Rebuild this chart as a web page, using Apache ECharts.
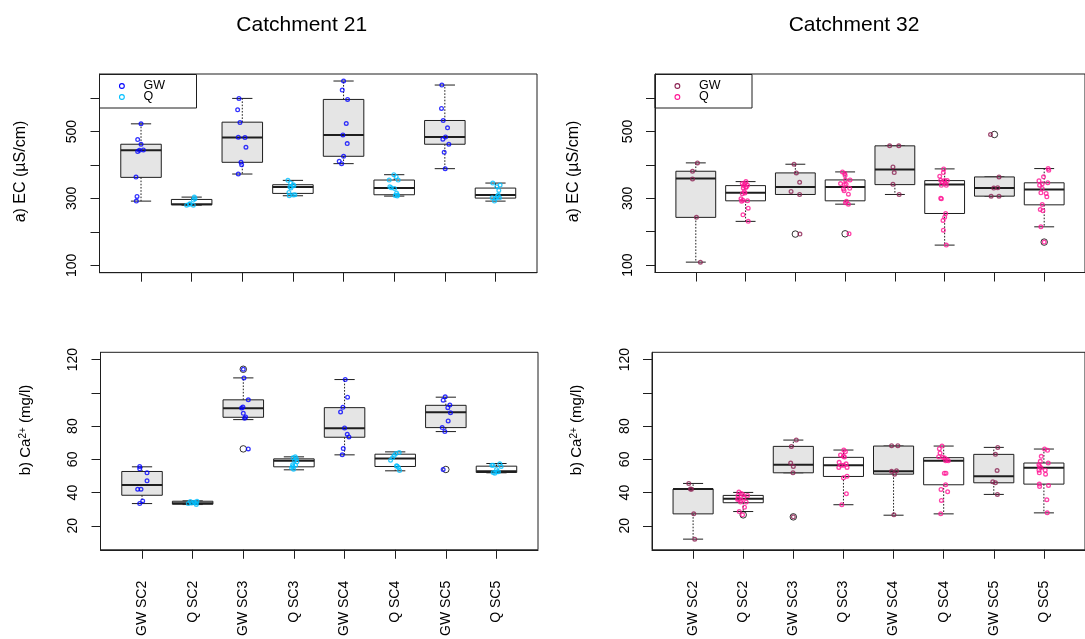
<!DOCTYPE html>
<html>
<head>
<meta charset="utf-8">
<title>EC and Ca2+ by sub-catchment</title>
<script src="https://cdn.jsdelivr.net/npm/echarts@6/dist/echarts.min.js"></script>
<style>
  html, body { margin: 0; padding: 0; background: #ffffff; }
  #chart { width: 1085px; height: 639px; }
</style>
</head>
<body>
<div id="chart"></div>
<script>
// ---- sample groups (groundwater / stream flow per sub-catchment) ----
const categories = ['GW SC2', 'Q SC2', 'GW SC3', 'Q SC3', 'GW SC4', 'Q SC4', 'GW SC5', 'Q SC5'];

// axis ticks and labels
const ecTicks = [100, 200, 300, 400, 500, 600];
const ecLabels = [100, 300, 500];
const caTicks = [20, 40, 60, 80, 100, 120];
const caLabels = [20, 40, 60, 80, 120];
const ecRange = [78, 672];
const caRange = [5.6, 124.4];
const groupRange = [0.18, 8.82];

// box statistics per group: [lower whisker, Q1, median, Q3, upper whisker]
const ec21Stats = [
  [292, 363, 444, 462, 523],
  [280, 281, 283, 297, 304],
  [373, 408, 482, 528, 599],
  [308, 315, 334, 341, 354],
  [404, 426, 490, 596, 651],
  [307, 311, 331, 355, 371],
  [389, 462, 484, 533, 639],
  [292, 301, 310, 331, 346]
];
const ec21Outliers = [];
// individual samples: [group, horizontal jitter, value]
const ec21Points = [
  [1, 0.000, 523], [1, -0.066, 476], [1, 0.000, 462], [1, -0.066, 440], [1, -0.033, 444],
  [1, 0.046, 445], [1, -0.099, 364], [1, -0.079, 306], [1, -0.092, 292],
  [2, -0.099, 280], [2, -0.033, 284], [2, 0.033, 280], [2, 0.053, 304], [2, 0.066, 299],
  [2, 0.033, 295], [2, -0.046, 283],
  [3, -0.066, 599], [3, -0.092, 565], [3, -0.046, 527], [3, -0.079, 483], [3, 0.053, 482],
  [3, 0.072, 453], [3, -0.026, 408], [3, -0.013, 401], [3, -0.079, 373],
  [4, -0.099, 354], [4, -0.046, 346], [4, 0.007, 341], [4, -0.059, 334], [4, 0.020, 338],
  [4, -0.079, 318], [4, 0.039, 311], [4, 0.007, 310], [4, -0.039, 331], [4, -0.072, 308],
  [5, 0.000, 651], [5, -0.026, 624], [5, 0.079, 596], [5, 0.053, 524], [5, -0.013, 490],
  [5, 0.072, 464], [5, 0.000, 426], [5, -0.086, 411], [5, -0.039, 404],
  [6, -0.007, 371], [6, 0.039, 365], [6, 0.079, 355], [6, -0.099, 355], [6, -0.086, 335],
  [6, 0.007, 330], [6, 0.046, 316], [6, 0.066, 310], [6, 0.020, 309], [6, 0.059, 307],
  [6, -0.059, 332],
  [7, -0.059, 639], [7, -0.066, 569], [7, -0.033, 533], [7, 0.053, 511], [7, 0.013, 484],
  [7, -0.039, 477], [7, 0.079, 462], [7, -0.013, 438], [7, 0.007, 389],
  [8, -0.053, 346], [8, 0.092, 340], [8, 0.026, 335], [8, 0.066, 324], [8, 0.053, 310],
  [8, -0.066, 302], [8, 0.000, 300], [8, 0.079, 302], [8, -0.020, 292], [8, 0.033, 306]
];

const ec32Stats = [
  [109, 243, 359, 381, 406],
  [231, 292.5, 316.5, 338, 350],
  [311.5, 311.5, 334, 376, 402],
  [282.5, 292.5, 334, 355, 379],
  [311.5, 341, 386, 457, 457],
  [160, 254.6, 341.4, 353, 388],
  [306.5, 306.5, 330.5, 364, 364],
  [214.7, 280.5, 326.4, 346.4, 389]
];
const ec32Outliers = [[3, 193], [4, 193.8], [7, 491], [8, 169]];
const ec32Points = [
  [1, 0.033, 406], [1, -0.066, 381], [1, -0.066, 358], [1, 0.013, 243], [1, 0.092, 109],
  [2, 0.007, 350], [2, -0.066, 344], [2, -0.013, 344], [2, 0.039, 339], [2, -0.039, 338],
  [2, 0.007, 333], [2, -0.046, 331], [2, 0.013, 334], [2, -0.026, 320], [2, -0.066, 314],
  [2, -0.013, 316], [2, -0.092, 298.5], [2, -0.053, 294.5], [2, 0.039, 292.5], [2, -0.079, 291.5],
  [2, 0.053, 270.5], [2, -0.053, 250.6], [2, 0.053, 231],
  [3, -0.026, 402], [3, 0.020, 376], [3, 0.086, 348], [3, -0.086, 320.5], [3, 0.086, 311.5],
  [3, 0.092, 193],
  [4, -0.053, 379], [4, -0.007, 374], [4, 0.000, 368], [4, 0.099, 355], [4, 0.007, 355],
  [4, -0.092, 344], [4, -0.013, 341], [4, 0.020, 342], [4, 0.092, 330], [4, -0.033, 328],
  [4, -0.020, 323], [4, 0.066, 312.5], [4, 0.026, 291.5], [4, 0.007, 286.5], [4, 0.066, 282.5],
  [4, 0.079, 193.8],
  [5, -0.105, 457], [5, 0.079, 457], [5, -0.039, 394], [5, -0.013, 377], [5, -0.039, 342],
  [5, 0.086, 311.5],
  [6, -0.020, 388], [6, -0.026, 377], [6, -0.099, 366], [6, -0.079, 354], [6, 0.000, 353],
  [6, 0.053, 353], [6, -0.053, 349], [6, 0.013, 345], [6, -0.066, 339], [6, 0.033, 339],
  [6, -0.079, 300.5], [6, -0.066, 298.5], [6, 0.020, 254.6], [6, 0.000, 243.6], [6, -0.033, 233.7],
  [6, -0.026, 204.7], [6, 0.033, 160],
  [7, -0.079, 491], [7, 0.092, 364], [7, -0.013, 330.5], [7, 0.066, 331.5], [7, -0.066, 306.5],
  [7, 0.092, 306.5],
  [8, 0.079, 389], [8, 0.092, 384], [8, -0.013, 364.3], [8, -0.105, 352.4], [8, 0.072, 346.4],
  [8, -0.039, 343.4], [8, -0.092, 339.4], [8, -0.039, 329.4], [8, -0.066, 316.5], [8, 0.039, 314.5],
  [8, 0.053, 304.5], [8, -0.039, 281.5], [8, -0.079, 266.6], [8, -0.026, 262.6], [8, -0.066, 214.7],
  [8, 0.000, 169]
];

const ca21Stats = [
  [33.4, 38.4, 44.6, 52.7, 55.5],
  [32.8, 33.0, 33.6, 34.8, 35.0],
  [83.9, 85.3, 90.7, 95.8, 109],
  [53.7, 55.5, 59.1, 60.3, 61.5],
  [62.7, 73.3, 78.7, 91.1, 108],
  [53.1, 55.7, 60.5, 63.1, 64.5],
  [76.7, 79.1, 88.3, 92.5, 97.4],
  [51.9, 52.1, 52.9, 55.9, 57.5]
];
const ca21Outliers = [[3, 114.2], [3, 66.3], [7, 53.9]];
const ca21Points = [
  [1, -0.046, 55.7], [1, -0.046, 54.3], [1, 0.099, 51.9], [1, 0.099, 47.1], [1, -0.086, 42.0],
  [1, -0.020, 42.0], [1, 0.013, 35.0], [1, -0.046, 33.4],
  [2, -0.086, 33.4], [2, -0.046, 34.6], [2, 0.033, 34.2], [2, 0.066, 33.8], [2, 0.072, 32.8],
  [2, -0.020, 33.8], [2, 0.086, 34.8],
  [3, 0.000, 114.2], [3, 0.013, 109], [3, 0.099, 95.8], [3, -0.033, 90.9], [3, -0.007, 91.5],
  [3, 0.000, 87.7], [3, 0.046, 85.5], [3, 0.026, 84.7], [3, 0.099, 66.3],
  [4, 0.026, 61.5], [4, -0.020, 60.9], [4, 0.046, 60.3], [4, 0.013, 59.3], [4, 0.059, 58.5],
  [4, -0.026, 56.7], [4, 0.033, 56.5], [4, -0.046, 54.9], [4, -0.007, 54.1], [4, -0.020, 55.7],
  [5, 0.013, 108], [5, 0.059, 97.4], [5, -0.033, 91.3], [5, -0.079, 88.5], [5, 0.000, 78.9],
  [5, 0.053, 75.1], [5, 0.086, 73.5], [5, -0.026, 66.5], [5, -0.046, 62.7],
  [6, 0.079, 64.1], [6, 0.013, 63.5], [6, -0.020, 62.3], [6, -0.053, 60.9], [6, -0.092, 59.5],
  [6, 0.039, 55.9], [6, 0.066, 55.1], [6, 0.086, 53.3], [6, 0.026, 56.1],
  [7, -0.013, 97.6], [7, -0.053, 95.6], [7, 0.079, 92.7], [7, 0.039, 91.1], [7, 0.092, 88.1],
  [7, 0.046, 83.1], [7, -0.072, 79.1], [7, -0.020, 76.7], [7, -0.053, 53.9],
  [8, -0.092, 56.5], [8, 0.066, 57.3], [8, 0.092, 55.7], [8, 0.000, 53.9], [8, -0.066, 52.1],
  [8, 0.013, 52.5], [8, -0.033, 51.7], [8, 0.039, 52.5], [8, -0.066, 56.5]
];

const ca32Stats = [
  [12.0, 27.2, 42.1, 42.1, 45.5],
  [28.6, 33.9, 36.3, 38.3, 40.1],
  [51.9, 51.9, 56.7, 67.8, 71.6],
  [32.7, 49.7, 56.5, 61.2, 65.6],
  [26.4, 51.1, 52.9, 68.0, 68.0],
  [27.2, 44.7, 59.2, 61.0, 68.0],
  [38.9, 45.9, 49.9, 63.0, 67.2],
  [27.8, 45.1, 54.9, 57.8, 66.2]
];
const ca32Outliers = [[2, 26.6], [3, 25.4]];
const ca32Points = [
  [1, -0.086, 45.5], [1, -0.053, 42.1], [1, -0.033, 42.0], [1, 0.013, 27.2], [1, 0.033, 12.0],
  [2, -0.086, 40.3], [2, -0.039, 39.5], [2, 0.086, 38.3], [2, -0.105, 38.3], [2, -0.007, 38.9],
  [2, -0.092, 36.3], [2, -0.039, 35.3], [2, 0.059, 34.3], [2, -0.053, 34.3], [2, 0.026, 31.2],
  [2, -0.079, 28.6], [2, -0.013, 26.6], [2, 0.013, 36.9], [2, -0.112, 35.9],
  [3, 0.059, 71.6], [3, -0.039, 67.8], [3, -0.053, 57.8], [3, 0.000, 55.7], [3, -0.007, 51.9],
  [3, 0.000, 25.4],
  [4, 0.007, 65.6], [4, 0.039, 64.6], [4, -0.059, 62.6], [4, 0.000, 61.8], [4, 0.020, 61.4],
  [4, -0.086, 58.2], [4, 0.053, 57.3], [4, -0.046, 56.5], [4, 0.007, 56.5], [4, 0.072, 55.1],
  [4, -0.092, 55.1], [4, 0.072, 49.9], [4, 0.000, 48.9], [4, 0.059, 39.3], [4, -0.033, 32.7],
  [5, -0.039, 68.2], [5, 0.086, 68.2], [5, -0.039, 52.9], [5, 0.059, 53.1], [5, 0.020, 51.1],
  [5, 0.007, 26.6],
  [6, -0.033, 68.0], [6, -0.086, 66.4], [6, -0.072, 63.8], [6, -0.099, 61.6], [6, -0.020, 61.2],
  [6, 0.020, 60.8], [6, 0.072, 59.8], [6, 0.039, 59.2], [6, 0.092, 59.2], [6, 0.013, 51.7],
  [6, 0.046, 51.7], [6, 0.039, 44.7], [6, -0.053, 41.9], [6, 0.079, 40.5], [6, -0.046, 35.3],
  [6, -0.059, 27.2],
  [7, 0.079, 67.2], [7, 0.033, 63.0], [7, 0.066, 53.3], [7, -0.020, 46.5], [7, 0.033, 45.9],
  [7, 0.072, 38.9],
  [8, 0.013, 66.2], [8, 0.072, 65.4], [8, -0.053, 61.8], [8, -0.072, 58.8], [8, 0.086, 57.8],
  [8, -0.099, 56.7], [8, -0.086, 55.7], [8, -0.059, 54.9], [8, -0.099, 53.5], [8, 0.026, 53.5],
  [8, -0.092, 51.9], [8, 0.033, 51.1], [8, -0.092, 45.1], [8, 0.092, 44.3], [8, -0.086, 43.7],
  [8, 0.059, 35.7], [8, 0.066, 27.8]
];

// point colours: [GW, Q]
const colors21 = ['#0000ff', '#00bfff'];
const colors32 = ['#8b2252', '#ff1493'];

// ---- drawing ----
const FONT = "'Liberation Sans', Arial, Helvetica, sans-serif";
const INK = '#1e1e1e';

const grids = [
  { left: 99.5, top: 74, width: 437.5, height: 198.7 },
  { left: 655, top: 74, width: 438, height: 198.5 },
  { left: 100.5, top: 352.3, width: 437.5, height: 197.9 },
  { left: 652, top: 352.3, width: 438, height: 198.4 }
].map(g => Object.assign({ show: true, borderColor: INK, borderWidth: 1, backgroundColor: 'transparent' }, g));

function xAxisFor(gridIndex, withLabels) {
  const groupTicks = categories.map((c, i) => i + 1);
  return {
    type: 'value', gridIndex, min: groupRange[0], max: groupRange[1],
    splitLine: { show: false },
    axisLine: { show: true, onZero: false, lineStyle: { color: INK } },
    axisTick: { show: true, customValues: groupTicks, length: 9, lineStyle: { color: INK } },
    axisLabel: {
      show: withLabels, customValues: groupTicks, rotate: 90, margin: 31,
      fontSize: 14, fontFamily: FONT, color: '#000',
      formatter: v => categories[Math.round(v) - 1]
    }
  };
}

function yAxisFor(gridIndex, range, ticks, labels) {
  return {
    type: 'value', gridIndex, min: range[0], max: range[1],
    splitLine: { show: false },
    axisLine: { show: true, onZero: false, lineStyle: { color: INK } },
    axisTick: { show: true, customValues: ticks, length: 9, lineStyle: { color: INK } },
    axisLabel: {
      show: true, customValues: labels, rotate: 90, margin: 20,
      fontSize: 14, fontFamily: FONT, color: '#000'
    }
  };
}

function renderBox(params, api) {
  const g = api.value(0);
  const lo = api.coord([g, api.value(1)]);
  const q1 = api.coord([g, api.value(2)]);
  const md = api.coord([g, api.value(3)]);
  const q3 = api.coord([g, api.value(4)]);
  const hi = api.coord([g, api.value(5)]);
  const cx = md[0];
  const half = cx - api.coord([g - 0.4, 0])[0];
  const cap = half / 2;
  const fill = (Math.round(g) % 2 === 1) ? '#e5e5e5' : '#ffffff';
  const dashed = { stroke: INK, lineWidth: 1, lineDash: [1.6, 1.6] };
  const solid = { stroke: INK, lineWidth: 1 };
  return {
    type: 'group',
    children: [
      { type: 'line', shape: { x1: cx, y1: q3[1], x2: cx, y2: hi[1] }, style: dashed },
      { type: 'line', shape: { x1: cx, y1: q1[1], x2: cx, y2: lo[1] }, style: dashed },
      { type: 'line', shape: { x1: cx - cap, y1: hi[1], x2: cx + cap, y2: hi[1] }, style: solid },
      { type: 'line', shape: { x1: cx - cap, y1: lo[1], x2: cx + cap, y2: lo[1] }, style: solid },
      { type: 'rect', shape: { x: cx - half, y: q3[1], width: 2 * half, height: q1[1] - q3[1] },
        style: { fill, stroke: INK, lineWidth: 1 } },
      { type: 'line', shape: { x1: cx - half, y1: md[1], x2: cx + half, y2: md[1] },
        style: { stroke: INK, lineWidth: 2 } }
    ]
  };
}

function panelSeries(gridIndex, stats, outliers, points, colors) {
  const axes = { xAxisIndex: gridIndex, yAxisIndex: gridIndex };
  const jittered = (odd) => points
    .filter(p => (p[0] % 2 === 1) === odd)
    .map(p => [p[0] + p[1], p[2]]);
  const ring = (c) => ({ color: 'rgba(0,0,0,0)', borderColor: c, borderWidth: 1.3 });
  return [
    Object.assign({
      type: 'custom', renderItem: renderBox, silent: true, z: 2,
      data: stats.map((s, i) => [i + 1].concat(s)),
      encode: { x: 0, y: [1, 2, 3, 4, 5] }
    }, axes),
    Object.assign({
      type: 'scatter', name: 'outlier', silent: true, z: 3,
      symbol: 'circle', symbolSize: 6.5,
      itemStyle: { color: 'rgba(0,0,0,0)', borderColor: '#000', borderWidth: 1 },
      data: outliers
    }, axes),
    Object.assign({
      type: 'scatter', name: 'GW', silent: true, z: 4,
      symbol: 'circle', symbolSize: 3.7, itemStyle: ring(colors[0]),
      data: jittered(true)
    }, axes),
    Object.assign({
      type: 'scatter', name: 'Q', silent: true, z: 4,
      symbol: 'circle', symbolSize: 3.7, itemStyle: ring(colors[1]),
      data: jittered(false)
    }, axes)
  ];
}

function legendBox(x, y, colors) {
  return {
    type: 'group', x, y, z: 100,
    children: [
      { type: 'rect', shape: { x: 0, y: 0, width: 97, height: 33.5 },
        style: { fill: '#ffffff', stroke: INK, lineWidth: 1 } },
      { type: 'circle', shape: { cx: 22.4, cy: 11.5, r: 2.4 }, style: { fill: 'none', stroke: colors[0], lineWidth: 1.1 } },
      { type: 'circle', shape: { cx: 22.4, cy: 22.5, r: 2.4 }, style: { fill: 'none', stroke: colors[1], lineWidth: 1.1 } },
      { type: 'text', x: 44, y: 11.5, style: { text: 'GW', fontSize: 12.5, fontFamily: FONT, fill: '#000', textVerticalAlign: 'middle' } },
      { type: 'text', x: 44, y: 22.5, style: { text: 'Q', fontSize: 12.5, fontFamily: FONT, fill: '#000', textVerticalAlign: 'middle' } }
    ]
  };
}

function axisTitle(x, y, text, size, rich) {
  return {
    type: 'text', x, y, rotation: Math.PI / 2, z: 100,
    style: {
      text, rich, fontSize: size, fontFamily: FONT, fill: '#000',
      textAlign: 'center', textVerticalAlign: 'middle'
    }
  };
}

function headline(x, y, text) {
  return {
    type: 'text', x, y, z: 100,
    style: { text, fontSize: 21, fontFamily: FONT, fill: '#000', textAlign: 'center', textVerticalAlign: 'middle' }
  };
}

const supRich = {
  sup: { fontSize: 10, lineHeight: 10, verticalAlign: 'top', fontFamily: FONT, fill: '#000' }
};

const chart = echarts.init(document.getElementById('chart'), null, { renderer: 'canvas' });
chart.setOption({
  animation: false,
  backgroundColor: '#ffffff',
  grid: grids,
  xAxis: [xAxisFor(0, false), xAxisFor(1, false), xAxisFor(2, true), xAxisFor(3, true)],
  yAxis: [
    yAxisFor(0, ecRange, ecTicks, ecLabels),
    yAxisFor(1, ecRange, ecTicks, ecLabels),
    yAxisFor(2, caRange, caTicks, caLabels),
    yAxisFor(3, caRange, caTicks, caLabels)
  ],
  series: [].concat(
    panelSeries(0, ec21Stats, ec21Outliers, ec21Points, colors21),
    panelSeries(1, ec32Stats, ec32Outliers, ec32Points, colors32),
    panelSeries(2, ca21Stats, ca21Outliers, ca21Points, colors21),
    panelSeries(3, ca32Stats, ca32Outliers, ca32Points, colors32)
  ),
  graphic: [
    headline(301.7, 25.5, 'Catchment 21'),
    headline(854, 25.5, 'Catchment 32'),
    legendBox(99.5, 74.5, colors21),
    legendBox(655, 74.5, colors32),
    axisTitle(21, 171.5, 'a) EC (µS/cm)', 16),
    axisTitle(573.5, 171.5, 'a) EC (µS/cm)', 16),
    axisTitle(26, 430, 'b) Ca{sup|2+} (mg/l)', 15, supRich),
    axisTitle(577, 430, 'b) Ca{sup|2+} (mg/l)', 15, supRich)
  ]
});
</script>
</body>
</html>
